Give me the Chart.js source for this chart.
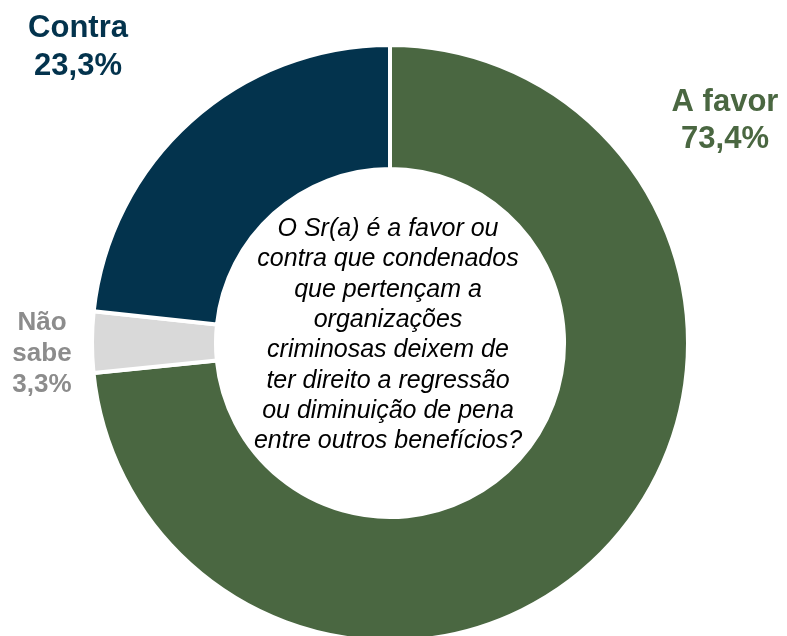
<!DOCTYPE html>
<html>
<head>
<meta charset="utf-8">
<script src="https://cdn.jsdelivr.net/npm/chart.js@4"></script>
<style>
  html, body { margin: 0; padding: 0; background: #fff; }
  #wrap { width: 787px; height: 636px; position: relative; }
</style>
</head>
<body>
<div id="wrap"><canvas id="pollChart"></canvas></div>
<script>
// Data
const categories = ["A favor", "Não sabe", "Contra"];
const percentValues = [73.4, 3.3, 23.3];
const percentLabels = ["73,4%", "3,3%", "23,3%"];
const sliceColors = ["#4a6741", "#d9d9d9", "#03334d"];
const labelColors = ["#4a6741", "#8c8c8c", "#03334d"];

const questionLines = [
  "O Sr(a) é a favor ou",
  "contra que condenados",
  "que pertençam a",
  "organizações",
  "criminosas deixem de",
  "ter direito a regressão",
  "ou diminuição de pena",
  "entre outros benefícios?",
];

// Draws the question in the hole and the outside labels
const textPlugin = {
  id: "textPlugin",
  afterDraw(chart) {
    const ctx = chart.ctx;
    const arc = chart.getDatasetMeta(0).data[0];
    const cx = arc.x;

    ctx.save();
    ctx.textAlign = "center";
    ctx.textBaseline = "alphabetic";

    // center question
    ctx.fillStyle = "#000";
    ctx.font = "italic 25px 'Liberation Sans', Arial, sans-serif";
    questionLines.forEach((line, i) => {
      ctx.fillText(line, cx - 2, 236 + i * 30.3);
    });

    // outside labels
    ctx.font = "bold 31px 'Liberation Sans', Arial, sans-serif";
    ctx.fillStyle = labelColors[0];
    ctx.fillText(categories[0], 725, 111);
    ctx.fillText(percentLabels[0], 725, 148);

    ctx.fillStyle = labelColors[2];
    ctx.fillText(categories[2], 78, 37);
    ctx.fillText(percentLabels[2], 78, 75);

    ctx.font = "bold 26px 'Liberation Sans', Arial, sans-serif";
    ctx.fillStyle = labelColors[1];
    const naoSabe = categories[1].split(" ");
    ctx.fillText(naoSabe[0], 42, 330);
    ctx.fillText(naoSabe[1], 42, 361);
    ctx.fillText(percentLabels[1], 42, 392);

    ctx.restore();
  },
};

function initializeChart() {
  const ctx = document.getElementById("pollChart").getContext("2d");

  new Chart(ctx, {
    type: "doughnut",
    data: {
      labels: categories,
      datasets: [
        {
          data: percentValues,
          backgroundColor: sliceColors,
          borderColor: "#ffffff",
          borderWidth: 4,
          hoverOffset: 0,
        },
      ],
    },
    options: {
      responsive: true,
      maintainAspectRatio: false,
      animation: false,
      radius: 298,
      cutout: "58.4%",
      layout: {
        padding: { top: 50, bottom: 0, left: 95, right: 102 },
      },
      plugins: {
        legend: { display: false },
        tooltip: { enabled: false },
      },
    },
    plugins: [textPlugin],
  });
}

document.addEventListener("DOMContentLoaded", function () {
  initializeChart();
});
</script>
</body>
</html>
